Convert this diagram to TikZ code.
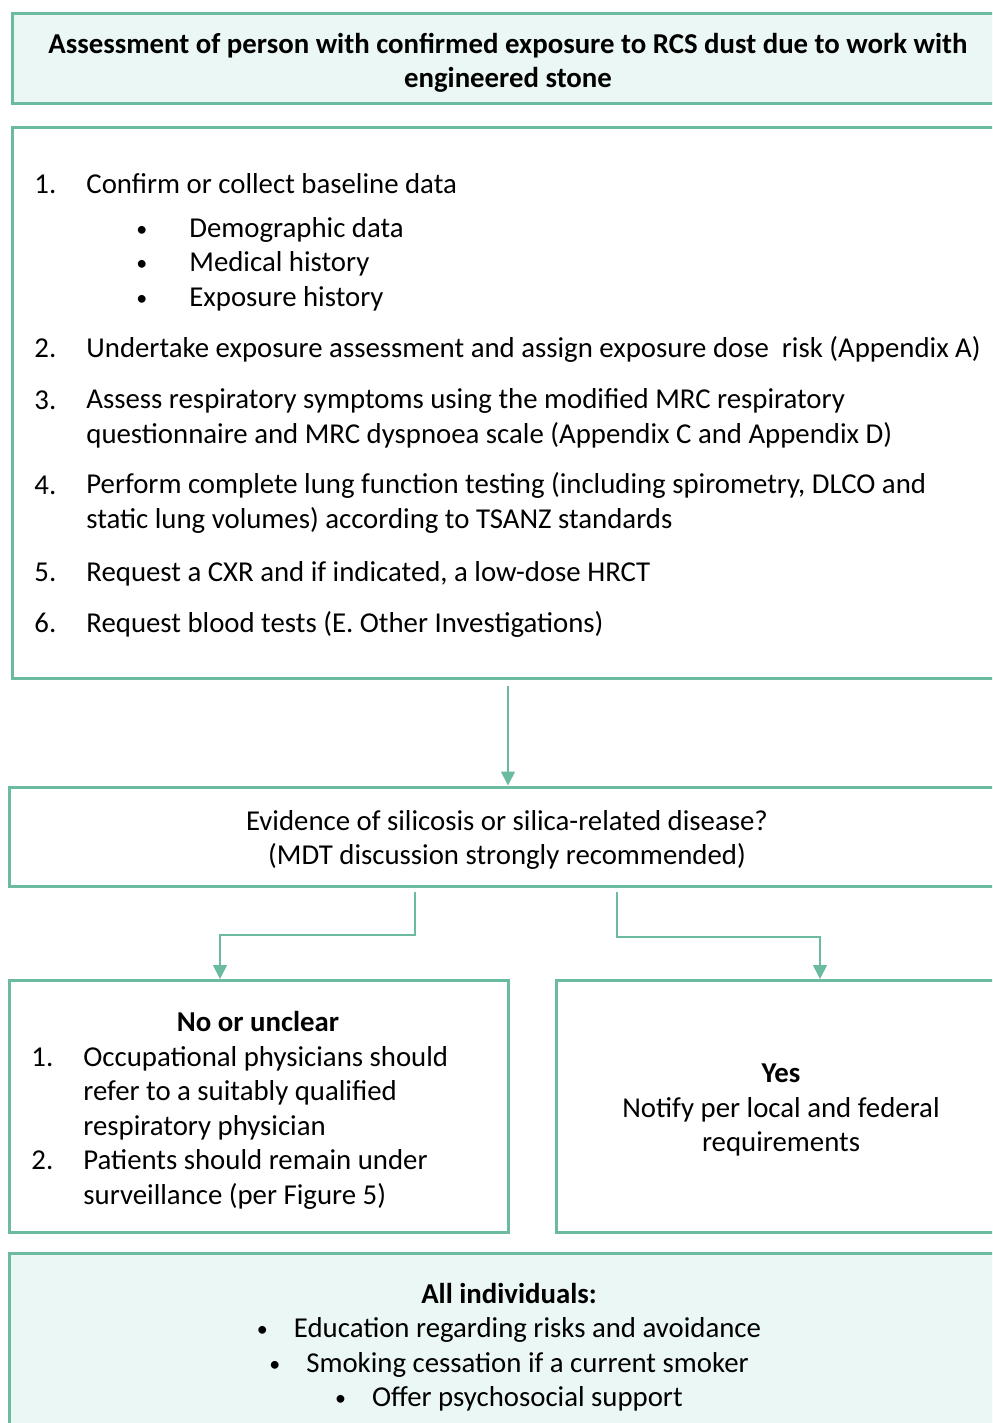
\documentclass[tikz,border=0pt]{standalone}
\usepackage{fontspec}
\setmainfont{Carlito}
\usetikzlibrary{arrows.meta,positioning}
\definecolor{flowgreen}{HTML}{6ABBA0}
\definecolor{flowfill}{HTML}{EBF7F4}
\newcommand{\smallbullet}{\raisebox{0.5pt}{\fontsize{11}{11}\selectfont •}}

\begin{document}
\begin{tikzpicture}[x=0.5pt, y=-0.5pt,
    box/.style={draw=flowgreen, line width=1.5pt, rectangle, inner sep=0pt},
    shaded/.style={box, fill=flowfill},
    arr/.style={draw=flowgreen, line width=0.8pt, -{Triangle[width=7pt,length=7pt]}},
    txt/.style={inner sep=0pt, anchor=base west, align=left, font=\fontsize{14.4}{17.25}\selectfont},
    mid/.style={inner sep=0pt, align=center, font=\fontsize{14.4}{17.25}\selectfont}]

                % Page frame
                \clip (0,0) rectangle (992,1423);

                % Boxes
                \node[shaded, minimum width=496pt, minimum height=45pt] (title) at (508,59) {};
                \node[box, minimum width=496pt, minimum height=275pt] (steps) at (508,403) {};
                \node[box, minimum width=499pt, minimum height=49.5pt] (dec) at (508,836.5) {};
                \node[box, minimum width=249.5pt, minimum height=126pt] (no) at (258.5,1106) {};
                \node[box, minimum width=225pt, minimum height=126pt] (yes) at (781,1106) {};
                \node[shaded, minimum width=499pt, minimum height=98.5pt] (all) at (508,1351.5) {};

                % Title
                \node[mid, font=\fontsize{14.4}{17.25}\bfseries] (titletext) at (508,63) {Assessment of person with confirmed exposure to RCS dust due to work with\\engineered stone};

                % Assessment steps (nodes sit on the baseline of their last line)
                \node[txt] (n1) at (34,194) {1.};
                \node[txt] (s1) at (86,194) {Confirm or collect baseline data};
                \foreach \y/\item [count=\i] in {237/Demographic data, 271/Medical history, 306/Exposure history}
                    {
                    \node[txt] (b\i) at (136,\y) {\smallbullet};
                    \node[txt] (bt\i) at (189,\y) {\item};
                    }
                \node[txt] (n2) at (34,357) {2.};
                \node[txt] (s2) at (86,357) {Undertake exposure assessment and assign exposure dose\ \ risk (Appendix A)};
                \node[txt] (n3) at (34,409) {3.};
                \node[txt] (s3) at (86,443) {Assess respiratory symptoms using the modified MRC respiratory\\questionnaire and MRC dyspnoea scale (Appendix C and Appendix D)};
                \node[txt] (n4) at (34,494) {4.};
                \node[txt] (s4) at (86,528) {Perform complete lung function testing (including spirometry, DLCO and\\static lung volumes) according to TSANZ standards};
                \node[txt] (n5) at (34,581) {5.};
                \node[txt] (s5) at (86,581) {Request a CXR and if indicated, a low-dose HRCT};
                \node[txt] (n6) at (34,632) {6.};
                \node[txt] (s6) at (86,632) {Request blood tests (E. Other Investigations)};

                % Decision
                \node[mid] (dectext) at (507,840) {Evidence of silicosis or silica-related disease?\\(MDT discussion strongly recommended)};

                % No branch
                \node[txt, anchor=base, font=\fontsize{14.4}{17.25}\bfseries] (notitle) at (258,1031) {No or unclear};
                \node[txt] (no1) at (31,1066) {1.};
                \node[txt] (no1text) at (83,1135) {Occupational physicians should\\refer to a suitably qualified\\respiratory physician};
                \node[txt] (no2) at (31,1169) {2.};
                \node[txt] (no2text) at (83,1204) {Patients should remain under\\surveillance (per Figure 5)};

                % Yes branch
                \node[mid] (yestext) at (781,1110) {\textbf{Yes}\\Notify per local and federal\\requirements};

                % All individuals
                \node[mid] (alltext) at (509,1347) {\textbf{All individuals:}\\
                    \smallbullet\hspace{13pt}Education regarding risks and avoidance\\
                    \smallbullet\hspace{13pt}Smoking cessation if a current smoker\\
                    \smallbullet\hspace{13pt}Offer psychosocial support};

                % Connectors
                \coordinate (noarm) at (415,935);
                \coordinate (yesarm) at (617,937);
                \coordinate (notip) at (220,979);
                \coordinate (yestip) at (820,979);
                \draw[arr, shorten <=3pt] (steps.south) -- (dec.north);
                \draw[arr, shorten <=2pt] (dec.south -| noarm) -- (noarm) -| (notip);
                \draw[arr, shorten <=2pt] (dec.south -| yesarm) -- (yesarm) -| (yestip);

\end{tikzpicture}
\end{document}
